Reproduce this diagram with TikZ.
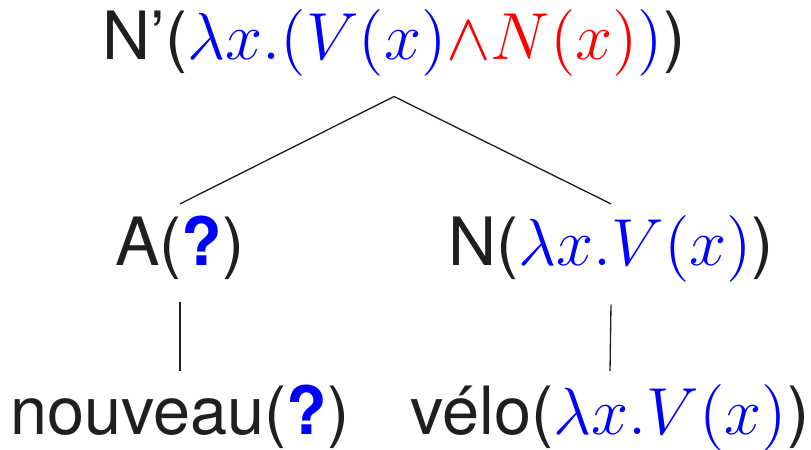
\RequirePackage{fix-cm}
\documentclass[tikz,border=0pt]{standalone}
\usepackage{fontspec}
\setmainfont{TeX Gyre Heros}
\usetikzlibrary{positioning}

\begin{document}
\begin{tikzpicture}[x=0.19672pt,y=0.19672pt,
  lbl/.style={font=\fontsize{13.1}{15}\selectfont,text=black!88,inner sep=0pt,anchor=base},
  edge/.style={line width=0.26pt,draw=black!88}]
\useasboundingbox (0,0) rectangle (811,449);
% root
\node[lbl] (nbar) at (394,390) {N’(\textcolor{blue}{$\lambda x.(V(x)$}\textcolor{red}{$\wedge N(x)$}\textcolor{blue}{$)$})};
% daughters
\node[lbl] (adj) at (180,184) {A(\textcolor{blue}{\textbf{?}})};
\node[lbl] (noun) at (611,184) {N(\textcolor{blue}{$\lambda x.V(x)$})};
% words
\node[lbl] (nouveau) at (180,15) {nouveau(\textcolor{blue}{\textbf{?}})};
\node[lbl] (velo) at (610,15) {vélo(\textcolor{blue}{$\lambda x.V(x)$})};
\draw[edge] ([yshift=-3.9pt]nbar.south) -- ([yshift=2pt]adj.north |- noun.north);
\draw[edge] ([yshift=-3.9pt]nbar.south) -- ([yshift=2pt]noun.north);
\draw[edge] ([yshift=-4.3pt]adj.south) -- ([yshift=2.4pt]nouveau.north);
\draw[edge] ([yshift=-4.3pt]noun.south) -- ([yshift=2.4pt]velo.north);
\end{tikzpicture}
\end{document}
